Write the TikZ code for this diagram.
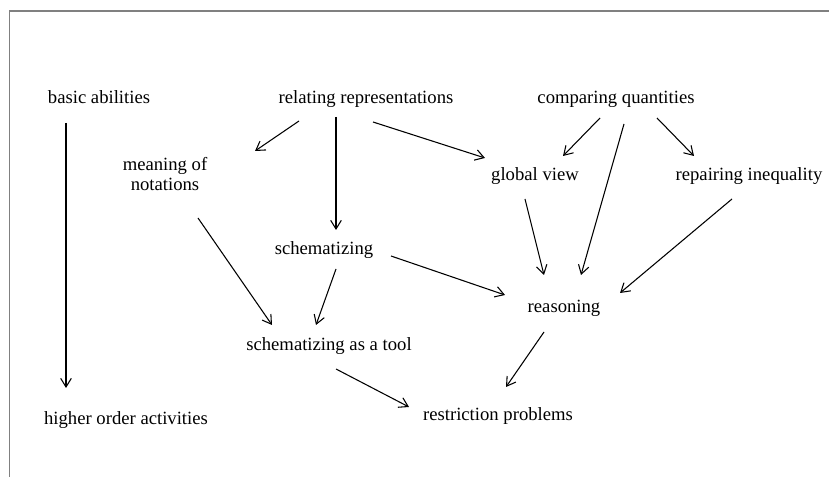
\documentclass[tikz,border=0pt]{standalone}
\usepackage{fontspec}
\setmainfont{Liberation Serif}
\usetikzlibrary{arrows.meta,calc}
\begin{document}
\begin{tikzpicture}[x=0.75pt,y=-0.75pt,
    lbl/.style={inner sep=0pt, text height=10.9pt, text depth=0pt, align=center, font=\fontsize{14}{15}\selectfont},
    arr/.style={-{Straight Barb[length=6.5pt,width=8pt]}, line width=0.8pt}]
            \useasboundingbox (0,0) rectangle (829,477);
            \draw[gray, line width=1.1pt] (9.5,477) -- (9.5,11) -- (829,11);
            \node[lbl] (basic) at (99,96) {basic abilities};
            \node[lbl] (rel) at (366,96) {relating representations};
            \node[lbl] (comp) at (616,96) {comparing quantities};
            \node[lbl] (mean) at (165,183) {meaning of\\notations};
            \node[lbl] (glob) at (535,173) {global view};
            \node[lbl] (repair) at (749,173) {repairing inequality};
            \node[lbl] (schem) at (324,247) {schematizing};
            \node[lbl] (reas) at (564,305) {reasoning};
            \node[lbl] (tool) at (329,343) {schematizing as a tool};
            \node[lbl] (higher) at (126,417) {higher order activities};
            \node[lbl] (restr) at (498,413) {restriction problems};
            \draw[arr] ($(basic)+(-33,27)$) -- ($(higher)+(-60,-29)$);
            \draw[arr] ($(rel)+(-67,25)$) -- ($(mean)+(90,-32)$);
            \draw[arr] ($(rel)+(-30,21)$) -- ($(schem)+(12,-17)$);
            \draw[arr] ($(rel)+(7,26)$) -- ($(glob)+(-50,-15)$);
            \draw[arr] ($(comp)+(-16,22)$) -- ($(glob)+(28,-17)$);
            \draw[arr] ($(comp)+(8,28)$) -- ($(reas)+(17,-30)$);
            \draw[arr] ($(comp)+(41,22)$) -- ($(repair)+(-55,-17)$);
            \draw[arr] ($(mean)+(33,35)$) -- ($(tool)+(-57,-18)$);
            \draw[arr] ($(glob)+(-10,26)$) -- ($(reas)+(-20,-30)$);
            \draw[arr] ($(repair)+(-17,26)$) -- ($(reas)+(56,-12)$);
            \draw[arr] ($(schem)+(12,22)$) -- ($(tool)+(-13,-18)$);
            \draw[arr] ($(schem)+(67,9)$) -- ($(reas)+(-59,-10)$);
            \draw[arr] ($(reas)+(-20,27)$) -- ($(restr)+(8,-26)$);
            \draw[arr] ($(tool)+(7,26)$) -- ($(restr)+(-89,-6)$);
        \end{tikzpicture}
\end{document}
